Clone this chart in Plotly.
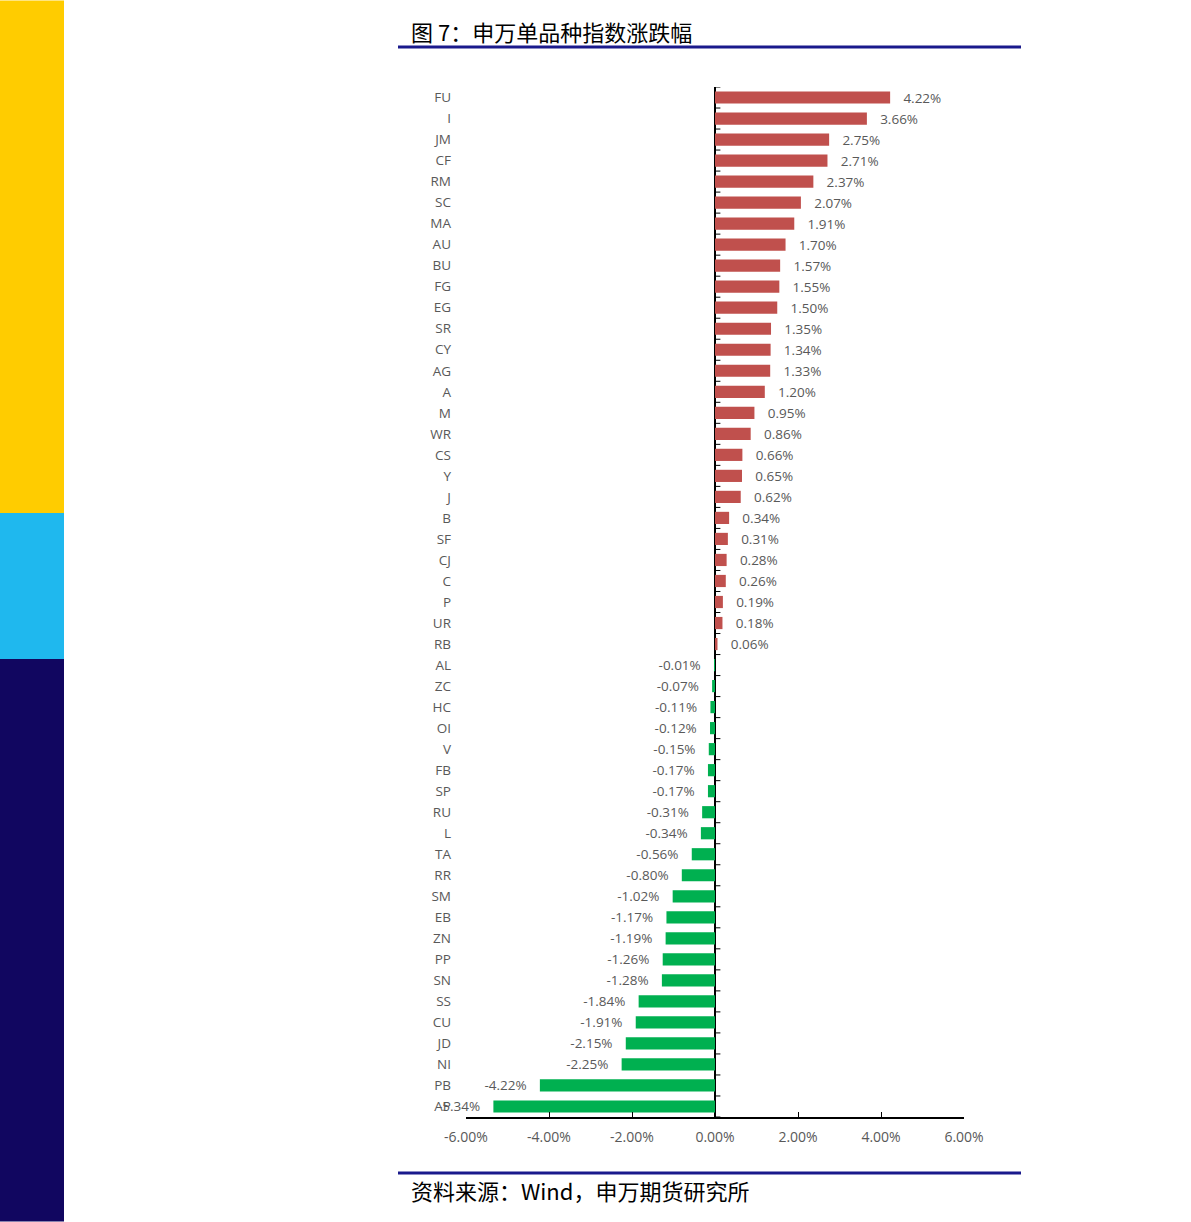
import plotly.graph_objects as go

categories = ["FU", "I", "JM", "CF", "RM", "SC", "MA", "AU", "BU", "FG", "EG", "SR", "CY", "AG", "A", "M", "WR",
              "CS", "Y", "J", "B", "SF", "CJ", "C", "P", "UR", "RB", "AL", "ZC", "HC", "OI", "V", "FB", "SP", "RU",
              "L", "TA", "RR", "SM", "EB", "ZN", "PP", "SN", "SS", "CU", "JD", "NI", "PB", "AP"]
values = [4.22, 3.66, 2.75, 2.71, 2.37, 2.07, 1.91, 1.70, 1.57, 1.55, 1.50, 1.35, 1.34, 1.33, 1.20, 0.95, 0.86,
          0.66, 0.65, 0.62, 0.34, 0.31, 0.28, 0.26, 0.19, 0.18, 0.06, -0.01, -0.07, -0.11, -0.12, -0.15, -0.17, -0.17, -0.31,
          -0.34, -0.56, -0.80, -1.02, -1.17, -1.19, -1.26, -1.28, -1.84, -1.91, -2.15, -2.25, -4.22, -5.34]
x_ticks = [-6, -4, -2, 0, 2, 4, 6]
x_tick_labels = ["-6.00%", "-4.00%", "-2.00%", "0.00%", "2.00%", "4.00%", "6.00%"]

title_text = "图 7：申万单品种指数涨跌幅"
source_text = "资料来源：Wind，申万期货研究所"

RED = "#C0504D"
GREEN = "#00B050"
GRAY = "#595959"
NAVY = "#1A1A8C"

W, H = 1191, 1222
L, R, T, B = 466, 964, 86.5, 1117.5
pw, ph = R - L, B - T


def px(x):
    return (x - L) / pw


def py(y):
    return 1 - (y - T) / ph


colors = [RED if v >= 0 else GREEN for v in values]
templates = ["\u2002 %{x:.2f}%" if v >= 0 else "%{x:.2f}%\u2002 " for v in values]

fig = go.Figure()
fig.add_trace(go.Bar(
    y=categories, x=values, orientation="h",
    marker=dict(color=colors, line=dict(width=0)),
    texttemplate=templates, textposition="outside",
    textfont=dict(color=GRAY, size=13.5, family="Open Sans"),
    constraintext="none", cliponaxis=False,
    hoverinfo="skip",
))

shapes = []
# left colour strip
for y0, y1, c in [(0, 513, "#FFCC00"), (513, 659, "#1FB8EE"), (659, 1222, "#110660")]:
    shapes.append(dict(type="rect", xref="paper", yref="paper", x0=px(0), x1=px(64), y0=py(y1), y1=py(y0),
                       fillcolor=c, line=dict(width=0), layer="below"))
# title and source rules
for yy in (46.5, 1173.5):
    shapes.append(dict(type="line", xref="paper", yref="paper", x0=px(398), x1=px(1021), y0=py(yy), y1=py(yy),
                       line=dict(color=NAVY, width=3)))
# category boundary ticks on the zero axis
n = len(categories)
for i in range(n + 1):
    shapes.append(dict(type="line", xref="x", yref="y", x0=0, x1=0.13, y0=i - 0.5, y1=i - 0.5,
                       line=dict(color="#000000", width=1)))

annotations = [
    dict(text=title_text, xref="paper", yref="paper", x=px(409), y=py(30), xanchor="left", yanchor="middle",
         showarrow=False, font=dict(size=22, color="#000000", family="Noto Sans CJK SC")),
    dict(text=source_text, xref="paper", yref="paper", x=px(409), y=py(1191), xanchor="left", yanchor="middle",
         showarrow=False, font=dict(size=22, color="#000000", family="Noto Sans CJK SC")),
]

fig.update_layout(
    width=W, height=H,
    margin=dict(l=L, r=W - R, t=T, b=H - B),
    paper_bgcolor="white", plot_bgcolor="white",
    showlegend=False, bargap=0.42,
    shapes=shapes, annotations=annotations,
    font=dict(family="Open Sans", color=GRAY, size=13.5),
    xaxis=dict(range=[-6, 6], tickvals=x_ticks, ticktext=x_tick_labels, showgrid=False,
               zeroline=True, zerolinecolor="#000000", zerolinewidth=1.5,
               showline=True, linecolor="#000000", linewidth=1.5,
               ticks="inside", ticklen=5, tickcolor="#000000", ticklabelstandoff=6,
               tickfont=dict(size=14, color=GRAY), fixedrange=True),
    yaxis=dict(range=[n - 0.5, -0.5], showgrid=False, showline=False, zeroline=False,
               ticks="", ticklabelstandoff=14,
               tickfont=dict(size=13.5, color=GRAY), fixedrange=True),
)

fig.write_html("out.html")
